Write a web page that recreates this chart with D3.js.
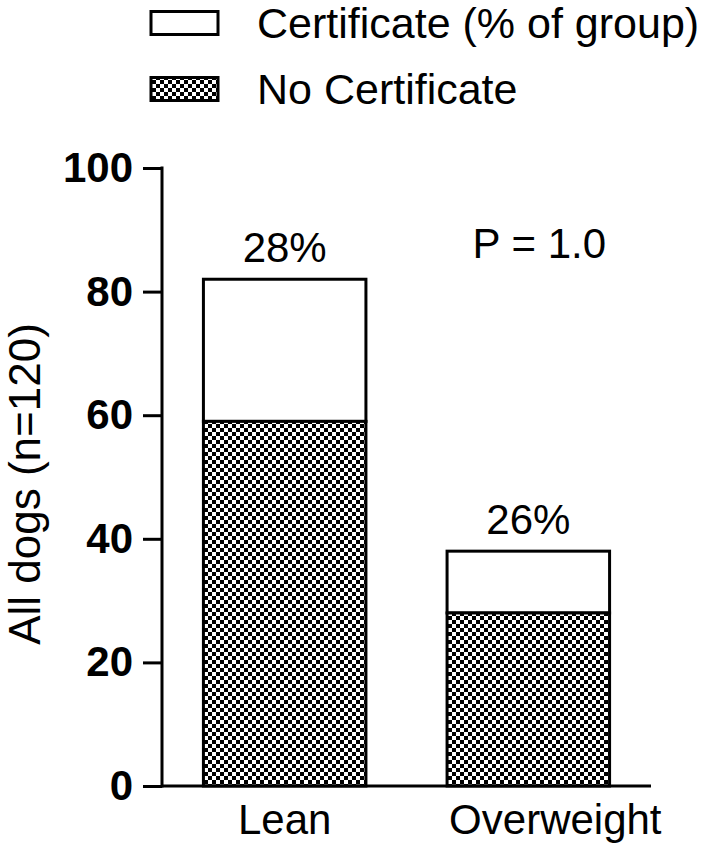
<!DOCTYPE html>
<html>
<head>
<meta charset="utf-8">
<script src="https://cdn.jsdelivr.net/npm/d3@7"></script>
<style>
  html, body { margin: 0; padding: 0; background: #fff; }
  svg { display: block; font-family: "Liberation Sans", Arial, sans-serif; }
</style>
</head>
<body>
<div id="chart"></div>
<script>
const groups = ["Lean", "Overweight"];
const noCertificate = [59, 28];
const certificate = [23, 10];
const pctLabels = ["28%", "26%"];
const yTicks = [0, 20, 40, 60, 80, 100];
const pValueText = "P = 1.0";
const legendLabels = ["Certificate (% of group)", "No Certificate"];

const W = 711, H = 857;
const axisX = 162, axisRight = 651;
const yTop = 168, yBottom = 786;
const fs = 42;

const svg = d3.select("#chart").append("svg")
  .attr("width", W)
  .attr("height", H);

const defs = svg.append("defs");
const pat = defs.append("pattern")
  .attr("id", "checker")
  .attr("patternUnits", "userSpaceOnUse")
  .attr("width", 8)
  .attr("height", 8);
pat.append("rect").attr("width", 8).attr("height", 8).attr("fill", "#fff");
pat.append("rect").attr("width", 4).attr("height", 4).attr("fill", "#000");
pat.append("rect").attr("x", 4).attr("y", 4).attr("width", 4).attr("height", 4).attr("fill", "#000");

const x = d3.scaleBand()
  .domain(groups)
  .range([axisX, axisRight])
  .paddingInner(0.333)
  .paddingOuter(0.17);

const y = d3.scaleLinear()
  .domain([0, 100])
  .range([yBottom, yTop]);

const rows = groups.map((g, i) => ({
  group: g,
  low: noCertificate[i],
  high: noCertificate[i] + certificate[i],
  pct: pctLabels[i]
}));

// bars: checker lower segment, white upper segment
const gBars = svg.append("g");
gBars.selectAll(".seg-cert")
  .data(rows)
  .join("rect")
  .attr("x", d => x(d.group))
  .attr("y", d => y(d.high))
  .attr("width", x.bandwidth())
  .attr("height", d => y(d.low) - y(d.high))
  .attr("fill", "#fff")
  .attr("stroke", "#000")
  .attr("stroke-width", 3);

gBars.selectAll(".seg-none")
  .data(rows)
  .join("rect")
  .attr("x", d => x(d.group))
  .attr("y", d => y(d.low))
  .attr("width", x.bandwidth())
  .attr("height", d => y(0) - y(d.low))
  .attr("fill", "url(#checker)")
  .attr("stroke", "#000")
  .attr("stroke-width", 3);

// y axis
const yAxis = d3.axisLeft(y)
  .tickValues(yTicks)
  .tickSize(19)
  .tickPadding(10);

const gy = svg.append("g")
  .attr("transform", `translate(${axisX},0)`)
  .call(yAxis);
gy.select(".domain").remove();
gy.append("line")
  .attr("x1", 0).attr("x2", 0)
  .attr("y1", y(100) - 1.5).attr("y2", y(0) + 1.5)
  .attr("stroke", "#000").attr("stroke-width", 3);
gy.selectAll(".tick line").attr("stroke", "#000").attr("stroke-width", 3);
gy.selectAll(".tick text")
  .attr("fill", "#000")
  .attr("font-size", fs)
  .attr("font-weight", "bold")
  .attr("font-family", "'Liberation Sans', Arial, sans-serif");

// x axis
const xAxis = d3.axisBottom(x).tickSize(0).tickPadding(18);
const gx = svg.append("g")
  .attr("transform", `translate(0,${yBottom})`)
  .call(xAxis);
gx.select(".domain").remove();
gx.append("line")
  .attr("x1", axisX).attr("x2", axisRight)
  .attr("y1", 0).attr("y2", 0)
  .attr("stroke", "#000").attr("stroke-width", 3);
gx.selectAll(".tick text")
  .attr("fill", "#000")
  .attr("font-size", fs)
  .attr("font-family", "'Liberation Sans', Arial, sans-serif")
  .attr("dx", d => d === "Overweight" ? 27 : 0);

// y axis title
svg.append("text")
  .attr("transform", `translate(40,484) rotate(-90)`)
  .attr("text-anchor", "middle")
  .attr("font-size", 44)
  .attr("fill", "#000")
  .text("All dogs (n=120)");

// percentage labels above bars
svg.selectAll(".pct")
  .data(rows)
  .join("text")
  .attr("x", d => x(d.group) + x.bandwidth() / 2)
  .attr("y", d => y(d.high) - 17)
  .attr("text-anchor", "middle")
  .attr("font-size", fs)
  .attr("fill", "#000")
  .text(d => d.pct);

// p value
svg.append("text")
  .attr("x", x("Overweight") + x.bandwidth() / 2 + 11)
  .attr("y", y(85.5))
  .attr("text-anchor", "middle")
  .attr("font-size", fs)
  .attr("fill", "#000")
  .text(pValueText);

// legend
const legend = svg.append("g");
const legendRows = [
  { label: legendLabels[0], fill: "#fff", cy: 23 },
  { label: legendLabels[1], fill: "url(#checker)", cy: 89 }
];
legend.selectAll("rect")
  .data(legendRows)
  .join("rect")
  .attr("x", 151)
  .attr("y", d => d.cy - 11.5)
  .attr("width", 67)
  .attr("height", 23)
  .attr("fill", d => d.fill)
  .attr("stroke", "#000")
  .attr("stroke-width", 3);
legend.selectAll("text")
  .data(legendRows)
  .join("text")
  .attr("x", 257)
  .attr("y", d => d.cy + 15)
  .attr("font-size", 43)
  .attr("fill", "#000")
  .text(d => d.label);
</script>
</body>
</html>
